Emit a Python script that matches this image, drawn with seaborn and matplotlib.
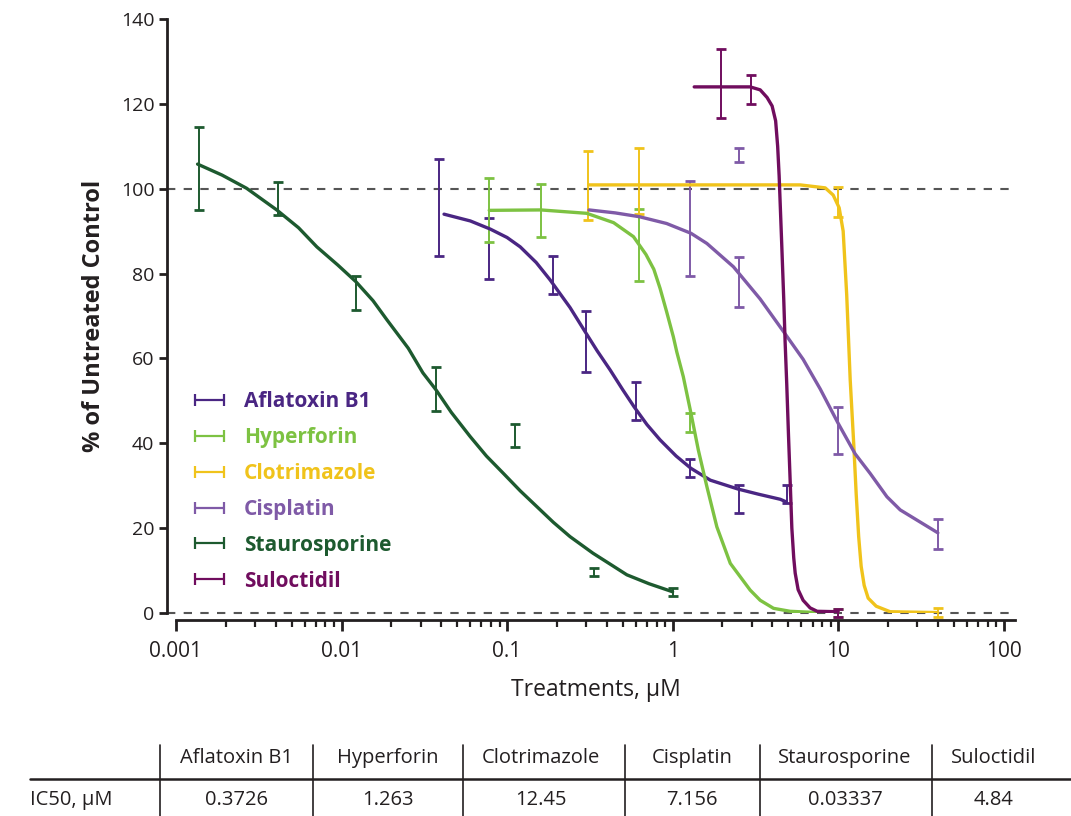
import numpy as np
import pandas as pd
import seaborn as sns
import matplotlib.pyplot as plt
from matplotlib.lines import Line2D
from matplotlib.container import ErrorbarContainer
from matplotlib.legend_handler import HandlerErrorbar
from matplotlib.ticker import FixedLocator, LogLocator, NullFormatter, FuncFormatter

# --- data ------------------------------------------------------------------
drugs = ["Aflatoxin B1", "Hyperforin", "Clotrimazole", "Cisplatin", "Staurosporine", "Suloctidil"]
colors = ["#4a2683", "#7dc242", "#f0c31b", "#7f5aa7", "#1d5a2f", "#700d5e"]
ic50_labels = ["0.3726", "1.263", "12.45", "7.156", "0.03337", "4.84"]

# measured points (mean, error)
afla_x = [0.039, 0.078, 0.19, 0.30, 0.60, 1.28, 2.5, 4.9]
afla_y = [95.6, 85.9, 79.7, 64.0, 50.0, 34.2, 26.9, 28.1]
afla_err = [11.5, 7.2, 4.5, 7.2, 4.5, 2.1, 3.3, 2.1]

hyper_x = [0.078, 0.16, 0.63, 1.28, 10]
hyper_y = [95.0, 94.9, 86.8, 44.9, 0.0]
hyper_err = [7.6, 6.3, 8.5, 2.2, 0.9]

clot_x = [0.31, 0.63, 10, 40]
clot_y = [100.8, 101.8, 96.9, 0.1]
clot_err = [8.2, 7.8, 3.5, 1.0]

cis_x = [1.28, 2.5, 2.5, 10, 40]
cis_y = [90.6, 108.0, 78.0, 43.0, 18.6]
cis_err = [11.2, 1.7, 5.9, 5.5, 3.6]

stau_x = [0.00137, 0.00412, 0.0123, 0.037, 0.111, 0.333, 1.0]
stau_y = [104.8, 97.7, 75.5, 52.7, 41.9, 9.7, 5.0]
stau_err = [9.8, 4.0, 4.0, 5.2, 2.7, 1.0, 1.0]

sulo_x = [1.96, 2.98, 10]
sulo_y = [124.8, 123.4, 0.0]
sulo_err = [8.1, 3.4, 0.9]

# fitted curves
afla_cx = [0.0416, 0.06, 0.079, 0.1, 0.12, 0.15, 0.182, 0.24, 0.296, 0.35, 0.419, 0.5,
           0.585, 0.7, 0.84, 1.05, 1.29, 1.69, 2.49, 3.3, 4.47, 4.85]
afla_cy = [94.0, 92.4, 90.5, 88.5, 86.3, 82.6, 78.5, 72.0, 66.3, 61.8, 57.3, 52.6,
           48.6, 44.4, 40.8, 37.0, 34.1, 31.3, 29.2, 28.0, 26.8, 26.2]

hyper_cx = [0.078, 0.16, 0.303, 0.44, 0.58, 0.69, 0.77, 0.84, 0.92, 1.01, 1.06, 1.16, 1.29,
            1.43, 1.61, 1.85, 2.23, 2.94, 3.38, 4.07, 5.13, 8.5, 10]
hyper_cy = [94.9, 95.0, 94.2, 92.0, 88.7, 84.5, 81.0, 76.5, 71.0, 65.1, 61.5, 55.7, 47.1,
            38.4, 29.8, 20.3, 11.7, 5.4, 3.0, 1.1, 0.4, 0.0, 0.0]

clot_cx = [0.3125, 1.47, 5.89, 8.35, 9.33, 10.14, 10.72, 11.26, 11.82, 12.41, 12.85, 13.30,
           13.77, 14.36, 15.18, 16.97, 20.6, 40]
clot_cy = [100.9, 100.9, 100.9, 100.2, 98.5, 95.5, 90.0, 75.0, 55.0, 40.0, 28.0, 18.0,
           11.0, 6.5, 3.5, 1.6, 0.3, 0.1]

cis_cx = [0.3125, 0.45, 0.63, 0.92, 1.29, 1.61, 2.33, 3.38, 4.72, 6.14, 7.79, 10, 12.67,
          15.6, 19.7, 23.7, 29.9, 40]
cis_cy = [95.0, 94.3, 93.4, 91.8, 89.5, 87.1, 81.6, 74.0, 66.1, 59.8, 52.8, 44.7, 37.5,
          32.9, 27.4, 24.3, 21.9, 18.9]

stau_cx = [0.00135, 0.0019, 0.00267, 0.00406, 0.0055, 0.00709, 0.0095, 0.0122, 0.0155,
           0.0188, 0.0253, 0.031, 0.0372, 0.046, 0.0598, 0.075, 0.095, 0.12, 0.151, 0.19,
           0.240, 0.330, 0.42, 0.529, 0.72, 1.0]
stau_cy = [105.8, 103.2, 100.1, 95.0, 90.8, 86.3, 82.0, 78.1, 73.6, 69.1, 62.4, 56.6,
           52.6, 47.3, 41.6, 37.0, 32.9, 28.8, 25.1, 21.4, 18.0, 14.1, 11.5, 9.0, 6.9, 5.0]

sulo_cx = [1.35, 1.94, 2.94, 3.38, 3.72, 3.99, 4.19, 4.31, 4.40, 4.56, 4.69, 4.78, 4.89,
           5.01, 5.13, 5.25, 5.39, 5.50, 5.73, 6.14, 6.77, 7.47, 10]
sulo_cy = [124.0, 124.0, 124.0, 123.3, 121.5, 119.5, 116.0, 110.0, 103.0, 87.0, 74.0, 64.0,
           54.0, 42.0, 31.0, 20.0, 13.0, 9.4, 5.5, 3.0, 1.2, 0.4, 0.3]

yticks = [0, 20, 40, 60, 80, 100, 120, 140]
xticks = [0.001, 0.01, 0.1, 1, 10, 100]

points = {
    "Aflatoxin B1": (afla_x, afla_y, afla_err),
    "Hyperforin": (hyper_x, hyper_y, hyper_err),
    "Clotrimazole": (clot_x, clot_y, clot_err),
    "Cisplatin": (cis_x, cis_y, cis_err),
    "Staurosporine": (stau_x, stau_y, stau_err),
    "Suloctidil": (sulo_x, sulo_y, sulo_err),
}
curves = {
    "Aflatoxin B1": (afla_cx, afla_cy),
    "Hyperforin": (hyper_cx, hyper_cy),
    "Clotrimazole": (clot_cx, clot_cy),
    "Cisplatin": (cis_cx, cis_cy),
    "Staurosporine": (stau_cx, stau_cy),
    "Suloctidil": (sulo_cx, sulo_cy),
}

# --- plotting ----------------------------------------------------------------
sns.set_theme(style="ticks")
plt.rcParams['font.family'] = ['Open Sans', 'DejaVu Sans']
ink = "#231f20"

W, H = 1071, 816
fig = plt.figure(figsize=(W / 100, H / 100), dpi=100)
ax = fig.add_axes([176 / W, 1 - 613 / H, 839 / W, 594 / H])

curve_df = pd.concat([pd.DataFrame({"drug": d, "conc": curves[d][0], "pct": curves[d][1]})
                      for d in drugs], ignore_index=True)
palette = dict(zip(drugs, colors))

ax.set_xscale("log")
ax.set_xlim(0.001, 117)
ax.set_ylim(0, 140)

# reference lines at 0 and 100 %
for yref in (0, 100):
    ax.plot([-0.011, 1], [yref, yref], transform=ax.get_yaxis_transform(),
            color="#555555", lw=1.5, dashes=(4, 4), clip_on=False, zorder=1)

for d in drugs:
    x, y, e = points[d]
    ax.errorbar(x, y, yerr=e, fmt="none", ecolor=palette[d], elinewidth=1.4,
                capsize=3.6, capthick=2.0, clip_on=False, zorder=2)

sns.lineplot(data=curve_df, x="conc", y="pct", hue="drug", palette=palette,
             estimator=None, sort=False, legend=False, lw=2.4, ax=ax, zorder=3,
             solid_joinstyle="round", solid_capstyle="round")

# axes styling (offset prism-like spines)
for s in ("top", "right"):
    ax.spines[s].set_visible(False)
ax.spines["left"].set_position(("outward", 6.5))
ax.spines["bottom"].set_position(("outward", 5))
for s in ("left", "bottom"):
    ax.spines[s].set_linewidth(2.0)
    ax.spines[s].set_color(ink)

ax.yaxis.set_major_locator(FixedLocator(yticks))
ax.xaxis.set_major_locator(FixedLocator(xticks))
ax.xaxis.set_minor_locator(LogLocator(base=10, subs=np.arange(2, 10)))
ax.xaxis.set_minor_formatter(NullFormatter())
ax.xaxis.set_major_formatter(FuncFormatter(lambda v, p: f"{v:g}"))
ax.tick_params(axis="both", which="major", width=2.0, length=6, color=ink,
               labelsize=14, labelcolor=ink, pad=3)
ax.tick_params(axis="x", which="minor", width=1.6, length=5, color=ink)
ax.tick_params(axis="x", which="major", length=8, pad=7, labelsize=15)

ax.set_xlabel("Treatments, µM", fontsize=16.5, color=ink, labelpad=12)
ax.set_ylabel("% of Untreated Control", fontsize=17, fontweight="bold", color=ink, labelpad=11)

# legend with horizontal error-bar handles
handles = []
for d in drugs:
    h = ax.errorbar([np.nan], [np.nan], xerr=[1], fmt="none", ecolor=palette[d],
                    elinewidth=1.6, capsize=4, capthick=1.6)
    handles.append(h)
leg = ax.legend(handles, drugs, loc="upper left", bbox_to_anchor=(0.0, 0.405),
                frameon=False, handlelength=1.4, handletextpad=0.95, labelspacing=0.715,
                prop={"weight": "bold", "size": 15},
                handler_map={ErrorbarContainer: HandlerErrorbar(xerr_size=0.7)})
for t, c in zip(leg.get_texts(), colors):
    t.set_color(c)

# --- IC50 table below the chart ---------------------------------------------
def fx(px):
    return px / W

def fy(py):
    return 1 - py / H

fig.add_artist(Line2D([fx(30), fx(W)], [fy(779), fy(779)], color=ink, lw=1.8))
for sx in [160, 313, 463, 625, 760, 932]:
    fig.add_artist(Line2D([fx(sx), fx(sx)], [fy(745), fy(816)], color=ink, lw=1.2))

col_centres = [236, 388, 541, 692, 845, 994]
for cx, name, val in zip(col_centres, drugs, ic50_labels):
    fig.text(fx(cx), fy(758), name, ha="center", va="center", fontsize=14.5, color=ink)
    fig.text(fx(cx), fy(800), val, ha="center", va="center", fontsize=14.5, color=ink)
fig.text(fx(30), fy(800), "IC50, µM", ha="left", va="center", fontsize=14.5, color=ink)

fig.savefig("out.png", dpi=100)
